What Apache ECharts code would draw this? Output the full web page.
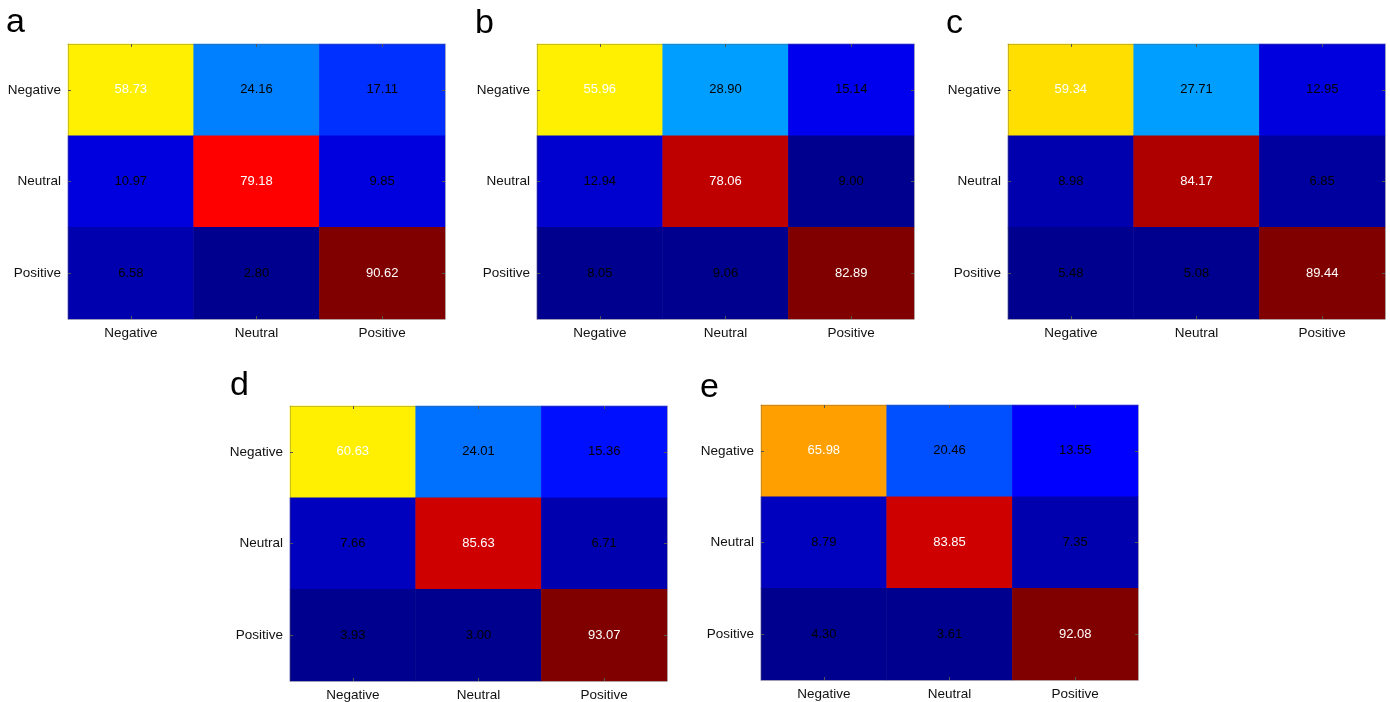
<!DOCTYPE html>
<html>
<head>
<meta charset="utf-8">
<script src="https://cdn.jsdelivr.net/npm/echarts@6/dist/echarts.min.js"></script>
<style>
  html, body { margin: 0; padding: 0; background: #fff; }
  #chart { width: 1390px; height: 702px; }
</style>
</head>
<body>
<div id="chart"></div>
<script>
// Class labels shared by every confusion matrix (rows = true, columns = predicted)
const classes = ['Negative', 'Neutral', 'Positive'];
const panelLetters = ['a', 'b', 'c', 'd', 'e'];

// Row-normalised confusion matrices (%), one per panel, rows top to bottom
const matrixA = [
  [58.73, 24.16, 17.11],
  [10.97, 79.18, 9.85],
  [6.58, 2.80, 90.62]
];
const matrixB = [
  [55.96, 28.90, 15.14],
  [12.94, 78.06, 9.00],
  [8.05, 9.06, 82.89]
];
const matrixC = [
  [59.34, 27.71, 12.95],
  [8.98, 84.17, 6.85],
  [5.48, 5.08, 89.44]
];
const matrixD = [
  [60.63, 24.01, 15.36],
  [7.66, 85.63, 6.71],
  [3.93, 3.00, 93.07]
];
const matrixE = [
  [65.98, 20.46, 13.55],
  [8.79, 83.85, 7.35],
  [4.30, 3.61, 92.08]
];
const matrices = [matrixA, matrixB, matrixC, matrixD, matrixE];

// Panel placement in pixels
const panels = [
  { left: 68,  top: 44,  letterX: 6,   letterY: 23 },
  { left: 537, top: 44,  letterX: 475, letterY: 24 },
  { left: 1008, top: 44, letterX: 946, letterY: 24 },
  { left: 290, top: 406, letterX: 230, letterY: 386 },
  { left: 761, top: 405, letterX: 700, letterY: 388 }
];
const cellAreaW = 377, cellAreaH = 275;

// 64-level jet colormap (same construction as the classic MATLAB table)
function jetTable(m) {
  const n = Math.ceil(m / 4);
  const u = [];
  for (let k = 1; k <= n; k++) u.push(k / n);
  for (let k = 1; k < n; k++) u.push(1);
  for (let k = n; k >= 1; k--) u.push(k / n);
  const off = Math.ceil(n / 2) - (m % 4 === 1 ? 1 : 0);
  const rgb = Array.from({ length: m }, () => [0, 0, 0]);
  const L = u.length;
  const gIdx = [], rIdx = [], bIdx = [];
  for (let k = 1; k <= L; k++) {
    const g = off + k;
    if (g <= m) gIdx.push([g, k]);
    if (g + n <= m) rIdx.push([g + n, k]);
    if (g - n >= 1) bIdx.push(g - n);
  }
  rIdx.forEach(([i, k]) => { rgb[i - 1][0] = u[k - 1]; });
  gIdx.forEach(([i, k]) => { rgb[i - 1][1] = u[k - 1]; });
  bIdx.forEach((i, j) => { rgb[i - 1][2] = u[L - bIdx.length + j]; });
  return rgb.map(c => 'rgb(' + c.map(x => Math.round(x * 255)).join(',') + ')');
}
const jet64 = jetTable(64);

// Quantised colour bands spanning one matrix's value range
function colourPieces(lo, hi) {
  const step = (hi - lo) / jet64.length;
  return jet64.map((color, k) => {
    const piece = { gte: lo + k * step, color };
    if (k < jet64.length - 1) piece.lt = lo + (k + 1) * step;
    else piece.lte = hi + 1e-9;
    return piece;
  });
}

const FONT = '"Liberation Sans", Arial, Helvetica, sans-serif';
const frameColor = 'rgba(90,90,90,0.32)';
const tickColor = '#555';

const grid = [], xAxis = [], yAxis = [], series = [], visualMap = [], graphic = [];

matrices.forEach((m, i) => {
  const p = panels[i];
  grid.push({ left: p.left, top: p.top, width: cellAreaW, height: cellAreaH, containLabel: false });

  const cells = [];
  let lo = Infinity, hi = -Infinity;
  m.forEach((row, r) => row.forEach((v, c) => {
    cells.push([c, r, v]);
    lo = Math.min(lo, v); hi = Math.max(hi, v);
  }));

  const baseX = {
    type: 'category', data: classes, gridIndex: i, z: 10,
    axisLine: { show: true, lineStyle: { color: frameColor, width: 1 } },
    axisTick: { show: true, inside: true, length: 3, alignWithLabel: true, lineStyle: { color: tickColor } },
    splitLine: { show: false }
  };
  // bottom axis with labels
  xAxis.push(Object.assign({}, baseX, {
    position: 'bottom',
    axisLabel: { show: true, margin: 7, fontSize: 13.5, color: '#111', fontFamily: FONT }
  }));
  // top frame with ticks only
  xAxis.push(Object.assign({}, baseX, { position: 'top', axisLabel: { show: false } }));

  const baseY = {
    type: 'category', data: classes, gridIndex: i, inverse: true, z: 10,
    axisLine: { show: true, lineStyle: { color: frameColor, width: 1 } },
    axisTick: { show: true, inside: true, length: 3, alignWithLabel: true, lineStyle: { color: tickColor } },
    splitLine: { show: false }
  };
  yAxis.push(Object.assign({}, baseY, {
    position: 'left',
    axisLabel: { show: true, margin: 7, fontSize: 13.5, color: '#111', fontFamily: FONT }
  }));
  yAxis.push(Object.assign({}, baseY, { position: 'right', axisLabel: { show: false } }));

  visualMap.push({
    show: false, type: 'piecewise', seriesIndex: i, dimension: 2,
    pieces: colourPieces(lo, hi)
  });

  series.push({
    type: 'heatmap', xAxisIndex: 2 * i, yAxisIndex: 2 * i,
    // light text on the high-valued (warm) cells
    data: cells.map(v => ({ value: v, label: { color: v[2] > 50 ? '#fff' : '#000' } })),
    label: {
      show: true, fontSize: 13, fontFamily: FONT,
      formatter: d => d.value[2].toFixed(2)
    },
    emphasis: { disabled: true },
    itemStyle: { borderWidth: 0 }
  });

  graphic.push({
    type: 'text', x: p.letterX, y: p.letterY,
    style: { text: panelLetters[i], font: '34px ' + FONT, fill: '#000', verticalAlign: 'middle' }
  });
});

const chart = echarts.init(document.getElementById('chart'), null, { renderer: 'canvas' });
chart.setOption({
  backgroundColor: '#fff',
  animation: false,
  grid, xAxis, yAxis, visualMap, series, graphic
});
</script>
</body>
</html>
